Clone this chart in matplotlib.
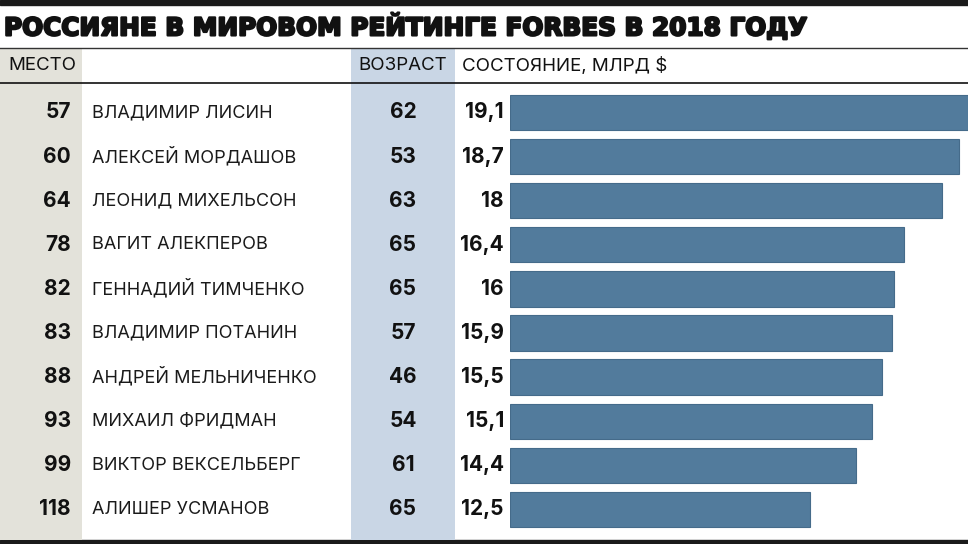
import matplotlib.pyplot as plt
import matplotlib.patheffects as pe
from matplotlib.patches import Rectangle
from matplotlib.transforms import blended_transform_factory

title = "РОССИЯНЕ В МИРОВОМ РЕЙТИНГЕ FORBES В 2018 ГОДУ"
places = [57, 60, 64, 78, 82, 83, 88, 93, 99, 118]
names = ["ВЛАДИМИР ЛИСИН", "АЛЕКСЕЙ МОРДАШОВ", "ЛЕОНИД МИХЕЛЬСОН",
         "ВАГИТ АЛЕКПЕРОВ", "ГЕННАДИЙ ТИМЧЕНКО", "ВЛАДИМИР ПОТАНИН",
         "АНДРЕЙ МЕЛЬНИЧЕНКО", "МИХАИЛ ФРИДМАН", "ВИКТОР ВЕКСЕЛЬБЕРГ",
         "АЛИШЕР УСМАНОВ"]
ages = [62, 53, 63, 65, 65, 57, 46, 54, 61, 65]
wealth = [19.1, 18.7, 18.0, 16.4, 16.0, 15.9, 15.5, 15.1, 14.4, 12.5]

W, H = 968, 544
plt.rcParams['font.family'] = ['Inter', 'DejaVu Sans']

fig = plt.figure(figsize=(W / 100, H / 100), dpi=100)

# background axes in pixel coords for decorations
bg = fig.add_axes([0, 0, 1, 1])
bg.set_xlim(0, W)
bg.set_ylim(H, 0)
bg.axis('off')

bg.add_patch(Rectangle((0, 0), W, 5, color='#1a1a1a'))
bg.add_patch(Rectangle((0, 540), W, 4, color='#1a1a1a'))
bg.add_patch(Rectangle((0, 49), 82, 491, color='#e3e2da', lw=0))
bg.add_patch(Rectangle((351, 49), 104, 491, color='#c9d6e5', lw=0))
bg.plot([0, W], [48, 48], color='#333333', lw=1.0)
bg.plot([0, W], [83, 83], color='#111111', lw=1.2)

bg.text(4, 27, title, fontsize=17.8, fontweight='bold', family='DejaVu Sans',
        color='#111111', va='center', ha='left',
        path_effects=[pe.withStroke(linewidth=1.6, foreground='#111111')])
bg.text(8, 66, "МЕСТО", fontsize=13.5, color='#111111', va='center', ha='left')
bg.text(403, 66, "ВОЗРАСТ", fontsize=13.5, color='#111111', va='center', ha='center')
bg.text(462, 66, "СОСТОЯНИЕ, МЛРД $", fontsize=13.5, color='#111111', va='center', ha='left')

# bar axes: rows mapped so centres land at 112.5 + 44.1*i px
top_px, bot_px = 49, 540
pitch, first = 44.1, 112.5
ax = fig.add_axes([510 / W, 1 - bot_px / H, (W - 510) / W, (bot_px - top_px) / H])
ax.set_facecolor('none')
rows = list(range(len(names)))
ax.barh(rows, wealth, height=0.8, color='#527b9c', edgecolor='#456b8a', lw=0.8)
ax.set_xlim(0, (W - 510) / 24.0)
ax.set_ylim((bot_px - first) / pitch, (top_px - first) / pitch)
ax.axis('off')

tr = blended_transform_factory(bg.transData, ax.transData)
for i in rows:
    bg.text(71, i, str(places[i]), transform=tr, fontsize=15, fontweight='bold',
            color='#111111', ha='right', va='center')
    bg.text(92, i, names[i], transform=tr, fontsize=13, color='#1a1a1a',
            ha='left', va='center')
    bg.text(403, i, str(ages[i]), transform=tr, fontsize=15, fontweight='bold',
            color='#111111', ha='center', va='center')
    bg.text(504, i, f"{wealth[i]:g}".replace('.', ','), transform=tr, fontsize=15,
            fontweight='bold', color='#111111', ha='right', va='center')

fig.savefig('out.png', dpi=100)
